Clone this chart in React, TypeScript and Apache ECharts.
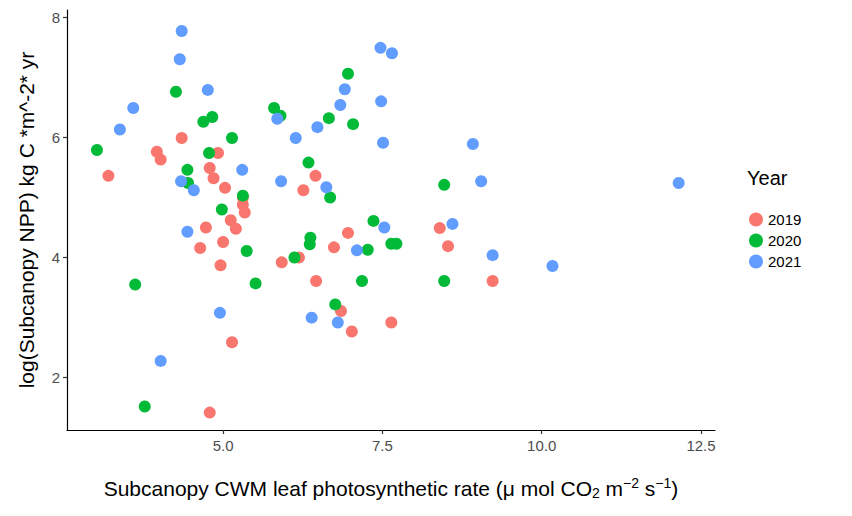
import { useEffect, useRef } from 'react';
import * as echarts from 'echarts';

// [x, y] pairs
const y2019 = [
    [3.2, 5.36], [3.96, 5.76], [4.02, 5.63], [4.35, 5.99], [4.92, 5.74], [4.79, 5.49],
    [4.85, 5.32], [5.03, 5.16], [5.31, 5.0], [5.31, 4.88], [5.34, 4.75], [5.12, 4.62],
    [5.2, 4.48], [4.73, 4.5], [4.64, 4.16], [5.0, 4.26], [4.96, 3.87], [5.14, 2.59],
    [4.79, 1.42], [5.92, 3.92], [6.19, 4.0], [6.46, 3.61], [6.74, 4.17], [6.96, 4.41],
    [6.85, 3.11], [7.02, 2.77], [7.64, 2.92], [6.26, 5.12], [6.45, 5.36], [8.4, 4.49],
    [8.53, 4.19], [9.23, 3.61],
];
const y2020 = [
    [3.02, 5.79], [4.26, 6.76], [4.69, 6.26], [4.83, 6.34], [5.14, 5.99], [4.78, 5.74],
    [4.44, 5.46], [4.45, 5.24], [5.31, 5.03], [4.98, 4.8], [5.8, 6.49], [5.9, 6.36],
    [6.34, 5.58], [6.66, 6.32], [6.96, 7.06], [7.04, 6.22], [6.68, 5.0], [7.36, 4.61],
    [3.62, 3.55], [3.77, 1.52], [5.37, 4.11], [5.51, 3.57], [6.12, 4.0], [6.37, 4.33],
    [6.36, 4.22], [6.76, 3.22], [7.18, 3.61], [7.27, 4.13], [7.64, 4.23], [7.72, 4.23],
    [8.47, 5.21], [8.47, 3.61],
];
const y2021 = [
    [4.35, 7.77], [4.32, 7.3], [4.76, 6.79], [3.59, 6.49], [3.38, 6.13], [4.34, 5.27],
    [4.54, 5.12], [5.3, 5.46], [5.85, 6.31], [6.14, 5.99], [6.48, 6.17], [5.91, 5.27],
    [6.62, 5.17], [6.84, 6.54], [6.91, 6.8], [7.47, 7.49], [7.65, 7.4], [7.48, 6.6],
    [7.51, 5.91], [4.44, 4.43], [4.95, 3.08], [4.02, 2.28], [6.39, 3.0], [6.8, 2.92],
    [7.1, 4.12], [7.53, 4.5], [8.92, 5.89], [9.05, 5.27], [12.15, 5.24], [8.6, 4.56],
    [9.23, 4.04], [10.17, 3.86],
];
const xTicks = [5, 7.5, 10, 12.5];
const yTicks = [2, 4, 6, 8];

const App = () => {
    const chartRef = useRef<HTMLDivElement | null>(null);

    useEffect(() => {
        const chart = echarts.init(chartRef.current!, null, { renderer: 'svg' });
        const font = 'Liberation Sans, Arial, sans-serif';
        const axisCommon = {
            axisLine: { show: true, lineStyle: { color: '#000', width: 1.2 } },
            axisTick: { show: true, length: 4, lineStyle: { color: '#333', width: 1.2 } },
            splitLine: { show: false },
            nameLocation: 'middle' as const,
            nameTextStyle: { color: '#000', fontSize: 21, fontFamily: font },
        };
        const mk = (name: string, color: string, data: number[][]) => ({
            name,
            type: 'scatter' as const,
            data,
            symbolSize: 12,
            itemStyle: { color, opacity: 1 },
        });
        chart.setOption({
            animation: false,
            textStyle: { fontFamily: font },
            grid: { left: 54, top: 2, right: 129, bottom: 78 },
            xAxis: {
                ...axisCommon,
                type: 'value',
                min: 2.55,
                max: 12.72,
                name: '{a|Subcanopy CWM leaf photosynthetic rate (μ mol CO}{sub|2}{a| m}{sup|−2}{a| s}{sup|−1}{a|)}',
                nameGap: 46,
                nameTextStyle: {
                    color: '#000',
                    fontSize: 21,
                    fontFamily: font,
                    rich: {
                        a: { fontSize: 21, color: '#000', fontFamily: font },
                        sub: { fontSize: 14, color: '#000', fontFamily: font, padding: [10, 0, 0, 0] },
                        sup: { fontSize: 14, color: '#000', fontFamily: font, padding: [0, 0, 10, 0] },
                    },
                },
                axisTick: { ...axisCommon.axisTick, customValues: xTicks },
                axisLabel: {
                    customValues: xTicks,
                    color: '#4d4d4d',
                    fontSize: 15,
                    margin: 8,
                    formatter: (v: number) => v.toFixed(1),
                },
            },
            yAxis: {
                ...axisCommon,
                type: 'value',
                min: 1.13,
                max: 8.12,
                name: 'log(Subcanopy NPP) kg C *m^-2* yr',
                nameGap: 30,
                axisTick: { ...axisCommon.axisTick, customValues: yTicks },
                axisLabel: { customValues: yTicks, color: '#4d4d4d', fontSize: 15, margin: 7 },
            },
            legend: {
                orient: 'vertical',
                left: 736,
                top: 199,
                itemGap: 6,
                itemWidth: 14,
                itemHeight: 14,
                icon: 'circle',
                textStyle: { fontSize: 15, color: '#000' },
                data: ['2019', '2020', '2021'],
            },
            graphic: [
                {
                    type: 'text',
                    left: 739,
                    top: 160,
                    style: { text: 'Year', fontSize: 20, fill: '#000', fontFamily: font },
                },
            ],
            series: [
                mk('2019', '#F8766D', y2019),
                mk('2020', '#00BA38', y2020),
                mk('2021', '#619CFF', y2021),
            ],
        });
        return () => chart.dispose();
    }, []);

    return <div ref={chartRef} style={{ width: 836, height: 500 }} />;
};

export default App;
